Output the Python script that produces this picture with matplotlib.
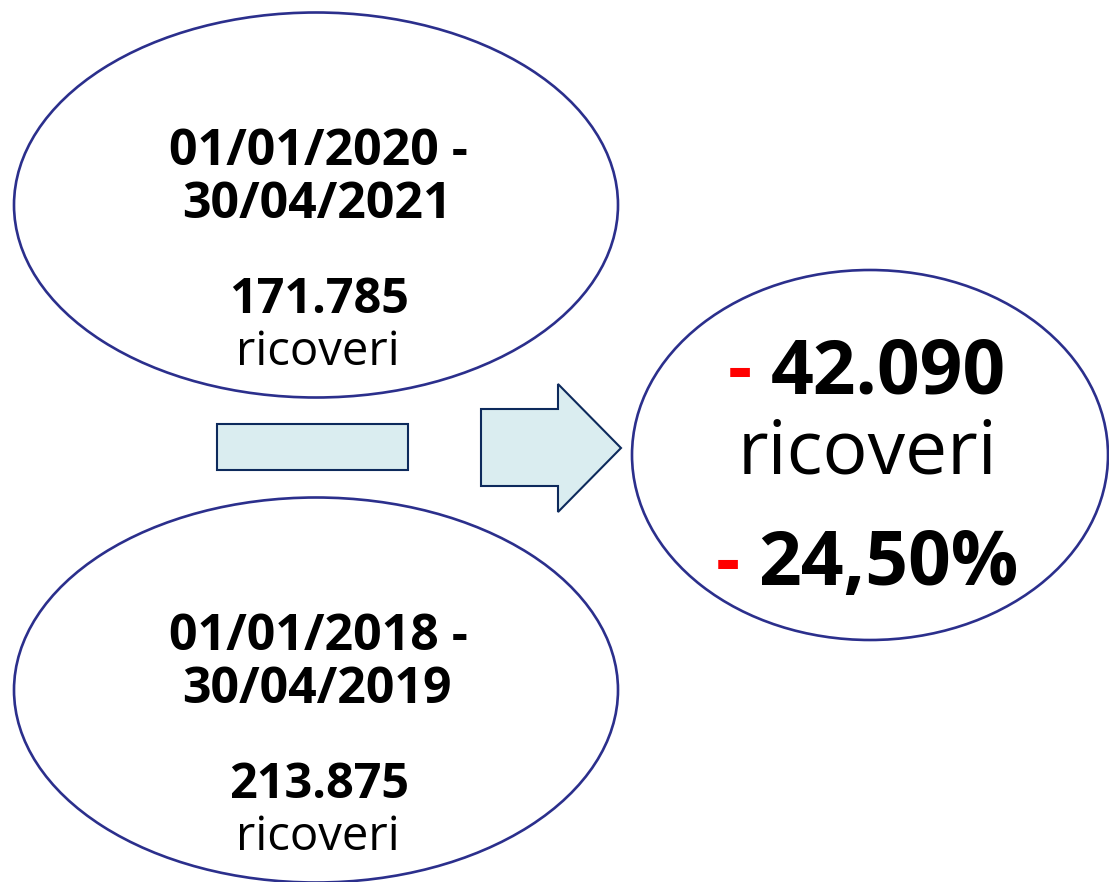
import matplotlib.pyplot as plt
from matplotlib.patches import Ellipse, Rectangle, Polygon

plt.rcParams['font.family'] = ['Open Sans', 'DejaVu Sans']

periods = ["01/01/2020 -\n30/04/2021", "01/01/2018 -\n30/04/2019"]
ricoveri = ["171.785", "213.875"]
diff_value = "42.090"
diff_pct = "24,50%"
unit = "ricoveri"

edge = "#2b2f8c"
box_edge = "#0d2a5c"
box_fill = "#daedf0"

fig = plt.figure(figsize=(11.09, 8.82), dpi=100)
ax = fig.add_axes([0, 0, 1, 1])
ax.set_xlim(0, 1109)
ax.set_ylim(882, 0)
ax.axis("off")

# two period ellipses
for cy, period, n in zip([205, 690], periods, ricoveri):
    ax.add_patch(Ellipse((316, cy), 604, 385, facecolor="white", edgecolor=edge, lw=1.9))
    l1, l2 = period.split("\n")
    ax.text(318, cy - 40, l1, ha="center", va="baseline", fontsize=36, fontweight="bold")
    ax.text(317, cy + 13, l2, ha="center", va="baseline", fontsize=36, fontweight="bold")
    ax.text(319, cy + 108, n, ha="center", va="baseline", fontsize=35, fontweight="bold")
    ax.text(318, cy + 160, unit, ha="center", va="baseline", fontsize=34)

# minus box and arrow
ax.add_patch(Rectangle((217, 424), 191, 46, facecolor=box_fill, edgecolor=box_edge, lw=1.5))
ax.add_patch(Polygon([(481, 409), (558, 409), (558, 384), (621, 448),
                      (558, 512), (558, 486), (481, 486)],
                     closed=True, facecolor=box_fill, edgecolor=box_edge, lw=1.5))

# result ellipse
ax.add_patch(Ellipse((870, 455), 476, 370, facecolor="white", edgecolor=edge, lw=1.9))
ax.text(740, 393, "-", ha="center", va="baseline", fontsize=54, fontweight="bold", color="red")
ax.text(771, 393, diff_value, ha="left", va="baseline", fontsize=54, fontweight="bold")
ax.text(868, 474, unit, ha="center", va="baseline", fontsize=54)
ax.text(728, 585, "-", ha="center", va="baseline", fontsize=54, fontweight="bold", color="red")
ax.text(758, 585, diff_pct, ha="left", va="baseline", fontsize=54, fontweight="bold")

fig.savefig("out.png", dpi=100)
